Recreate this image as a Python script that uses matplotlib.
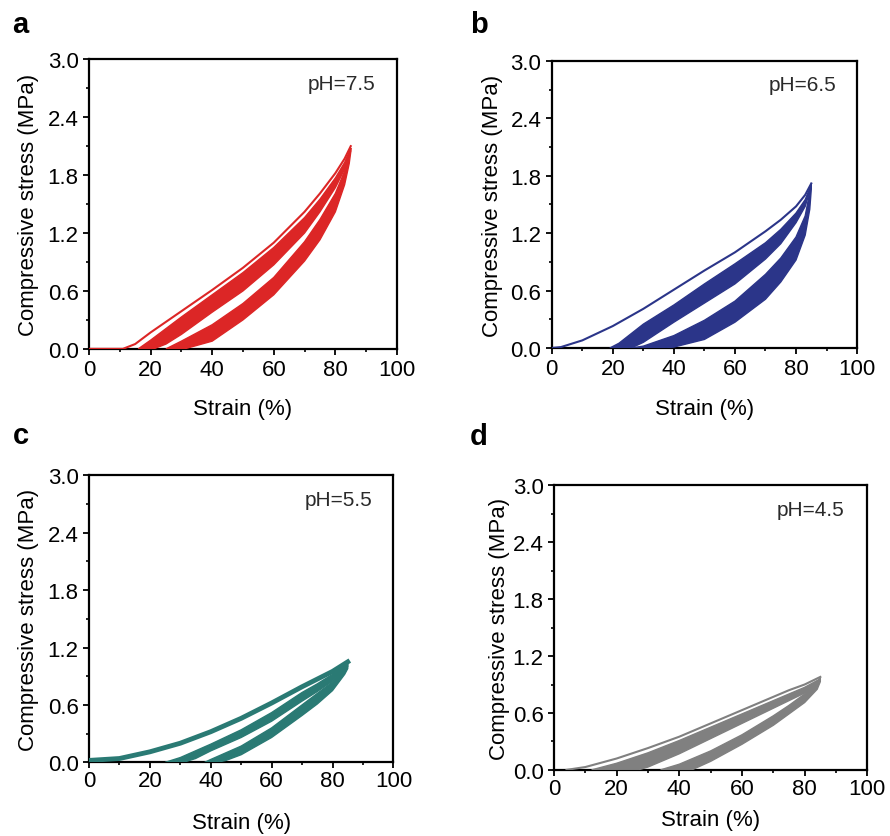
import numpy as np
from matplotlib import pyplot as plt
from matplotlib.ticker import MultipleLocator, FormatStrFormatter

plt.rcParams['font.family'] = ['Liberation Sans', 'DejaVu Sans']

# strain (%) / compressive stress (MPa)
# first loading curve, then the band of later loadings (upper / lower edge),
# then the band of unloadings (upper / lower edge)

# a: pH 7.5
a_first_x = [0, 11, 15, 20, 30, 40, 50, 60, 70, 75, 80, 83, 85]
a_first_y = [0, 0, 0.05, 0.17, 0.39, 0.61, 0.84, 1.10, 1.42, 1.61, 1.82, 1.97, 2.10]
a_load_hi_x = [16, 20, 30, 40, 50, 60, 70, 75, 80, 83, 85]
a_load_hi_y = [0, 0.09, 0.33, 0.56, 0.79, 1.05, 1.36, 1.55, 1.77, 1.93, 2.08]
a_load_lo_x = [21, 25, 30, 40, 50, 60, 70, 75, 80, 83, 85]
a_load_lo_y = [0, 0.05, 0.15, 0.38, 0.60, 0.87, 1.20, 1.42, 1.67, 1.86, 2.05]
a_unload_hi_x = [25, 30, 40, 50, 60, 70, 75, 80, 83, 85]
a_unload_hi_y = [0, 0.08, 0.25, 0.47, 0.74, 1.11, 1.34, 1.61, 1.84, 2.08]
a_unload_lo_x = [31, 40, 50, 60, 70, 75, 80, 83, 84.5, 85]
a_unload_lo_y = [0, 0.08, 0.30, 0.56, 0.91, 1.13, 1.42, 1.70, 1.92, 2.04]

# b: pH 6.5
b_first_x = [0, 3, 10, 20, 30, 40, 50, 60, 70, 75, 80, 83, 85]
b_first_y = [0, 0.01, 0.08, 0.23, 0.41, 0.61, 0.81, 1.00, 1.22, 1.34, 1.48, 1.60, 1.72]
b_load_hi_x = [19, 22, 30, 40, 50, 60, 70, 75, 80, 83, 85]
b_load_hi_y = [0, 0.05, 0.25, 0.45, 0.67, 0.88, 1.10, 1.24, 1.41, 1.55, 1.71]
b_load_lo_x = [26, 30, 40, 50, 60, 70, 75, 80, 83, 85]
b_load_lo_y = [0, 0.06, 0.27, 0.47, 0.67, 0.93, 1.09, 1.31, 1.48, 1.69]
b_unload_hi_x = [26, 30, 40, 50, 60, 70, 75, 80, 83, 85]
b_unload_hi_y = [0, 0.02, 0.13, 0.29, 0.49, 0.77, 0.94, 1.16, 1.38, 1.71]
b_unload_lo_x = [37, 40, 50, 60, 70, 75, 80, 83, 84.5, 85]
b_unload_lo_y = [0, 0.01, 0.09, 0.27, 0.51, 0.69, 0.92, 1.18, 1.45, 1.66]

# c: pH 5.5
c_first_x = [0, 10, 20, 30, 40, 50, 60, 70, 75, 80, 85]
c_first_y = [0.02, 0.04, 0.11, 0.20, 0.32, 0.46, 0.62, 0.79, 0.87, 0.95, 1.05]
c_load_hi_x = [25, 30, 40, 50, 60, 70, 75, 80, 85]
c_load_hi_y = [0, 0.05, 0.19, 0.34, 0.52, 0.73, 0.82, 0.92, 1.05]
c_load_lo_x = [31, 35, 40, 50, 60, 70, 75, 80, 85]
c_load_lo_y = [0, 0.04, 0.12, 0.26, 0.43, 0.64, 0.74, 0.85, 1.00]
c_unload_hi_x = [38, 40, 50, 60, 70, 75, 80, 84, 85]
c_unload_hi_y = [0, 0.03, 0.17, 0.36, 0.60, 0.72, 0.84, 0.98, 1.05]
c_unload_lo_x = [42, 45, 50, 60, 70, 75, 80, 84, 85]
c_unload_lo_y = [0, 0.02, 0.08, 0.26, 0.49, 0.61, 0.75, 0.92, 0.98]

# d: pH 4.5
d_first_x = [4, 10, 20, 30, 40, 50, 60, 70, 75, 80, 85]
d_first_y = [0, 0.03, 0.12, 0.23, 0.35, 0.49, 0.63, 0.77, 0.84, 0.90, 0.98]
d_load_hi_x = [12, 20, 30, 40, 50, 60, 70, 75, 80, 85]
d_load_hi_y = [0, 0.07, 0.18, 0.31, 0.45, 0.59, 0.73, 0.80, 0.87, 0.96]
d_load_lo_x = [27, 30, 40, 50, 60, 70, 75, 80, 85]
d_load_lo_y = [0, 0.03, 0.17, 0.33, 0.49, 0.65, 0.73, 0.81, 0.94]
d_unload_hi_x = [34, 40, 50, 60, 70, 75, 80, 84, 85]
d_unload_hi_y = [0, 0.06, 0.20, 0.37, 0.57, 0.68, 0.80, 0.92, 0.97]
d_unload_lo_x = [44, 50, 60, 70, 75, 80, 84, 85]
d_unload_lo_y = [0, 0.09, 0.27, 0.47, 0.59, 0.71, 0.85, 0.93]


def band(ax, hi_x, hi_y, lo_x, lo_y, color):
    px = np.concatenate([hi_x, lo_x[::-1]])
    py = np.concatenate([hi_y, lo_y[::-1]])
    ax.fill(px, py, color=color, lw=1.0, zorder=3)


def draw_panel(fig, rect, letter, letter_xy, ph, color, first, load, unload,
               first_lw=1.5, xpad=2.0, xlabelpad=12, ylabelpad=8):
    ax = fig.add_axes(rect)
    ax.plot(first[0], first[1], color=color, lw=first_lw, zorder=3)
    band(ax, *load, color)
    band(ax, *unload, color)

    ax.set_xlim(0, 100)
    ax.set_ylim(0, 3.0)
    ax.xaxis.set_major_locator(MultipleLocator(20))
    ax.xaxis.set_minor_locator(MultipleLocator(10))
    ax.yaxis.set_major_locator(MultipleLocator(0.6))
    ax.yaxis.set_minor_locator(MultipleLocator(0.3))
    ax.yaxis.set_major_formatter(FormatStrFormatter('%.1f'))
    ax.tick_params(which='major', direction='out', length=4.5, width=1.3,
                   labelsize=16, top=False, right=False)
    ax.tick_params(which='minor', direction='out', length=2.2, width=1.2,
                   top=False, right=False)
    ax.tick_params(axis='x', which='major', pad=xpad)
    ax.tick_params(axis='y', which='major', pad=3)
    for s in ax.spines.values():
        s.set_linewidth(1.6)

    ax.set_xlabel('Strain (%)', fontsize=16, labelpad=xlabelpad)
    ax.set_ylabel('Compressive stress (MPa)', fontsize=16, labelpad=ylabelpad)
    ax.text(71, 2.75, 'pH=' + ph, fontsize=15, ha='left', va='center',
            color='#2a2a2a')
    fig.text(letter_xy[0], letter_xy[1], letter, fontsize=21,
             fontweight='bold', ha='left', va='baseline')
    return ax


fig = plt.figure(figsize=(8.9, 8.37), dpi=100)
fig.patch.set_facecolor('white')

draw_panel(fig, [0.100, 0.582, 0.346, 0.346], 'a', (0.014, 0.961), '7.5', '#DC2626',
           (a_first_x, a_first_y),
           (a_load_hi_x, a_load_hi_y, a_load_lo_x, a_load_lo_y),
           (a_unload_hi_x, a_unload_hi_y, a_unload_lo_x, a_unload_lo_y),
           xpad=3, xlabelpad=13, ylabelpad=6)

draw_panel(fig, [0.620, 0.583, 0.343, 0.343], 'b', (0.528, 0.961), '6.5', '#2B3589',
           (b_first_x, b_first_y),
           (b_load_hi_x, b_load_hi_y, b_load_lo_x, b_load_lo_y),
           (b_unload_hi_x, b_unload_hi_y, b_unload_lo_x, b_unload_lo_y),
           xpad=3, xlabelpad=13, ylabelpad=5)

draw_panel(fig, [0.100, 0.088, 0.342, 0.343], 'c', (0.014, 0.469), '5.5', '#2A7A74',
           (c_first_x, c_first_y),
           (c_load_hi_x, c_load_hi_y, c_load_lo_x, c_load_lo_y),
           (c_unload_hi_x, c_unload_hi_y, c_unload_lo_x, c_unload_lo_y),
           first_lw=3.5, xpad=1, xlabelpad=15, ylabelpad=6)

draw_panel(fig, [0.6225, 0.079, 0.352, 0.340], 'd', (0.528, 0.468), '4.5', '#808080',
           (d_first_x, d_first_y),
           (d_load_hi_x, d_load_hi_y, d_load_lo_x, d_load_lo_y),
           (d_unload_hi_x, d_unload_hi_y, d_unload_lo_x, d_unload_lo_y),
           xpad=1.5, xlabelpad=7, ylabelpad=2)

fig.savefig('out.png', dpi=100)
